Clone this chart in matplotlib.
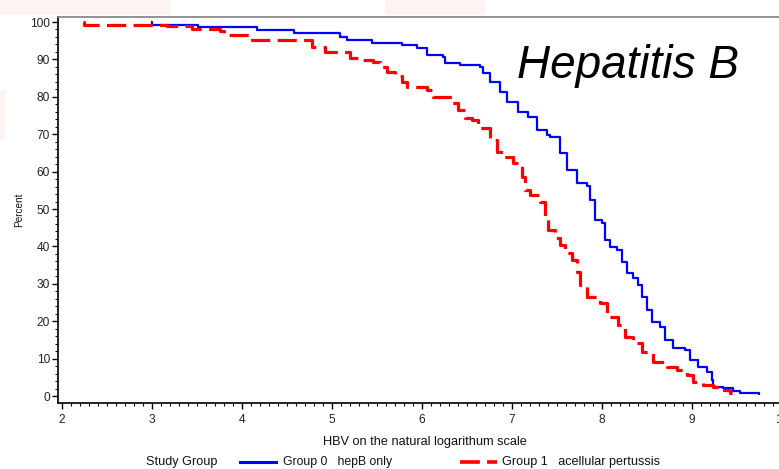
import matplotlib
matplotlib.use("Agg")
import matplotlib.pyplot as plt
from matplotlib.lines import Line2D
from matplotlib.patches import Rectangle
from matplotlib.ticker import MultipleLocator

plt.rcParams['font.family'] = ['Liberation Sans', 'DejaVu Sans']

# Group 0 (hepB only): reverse cumulative percent at ln(HBV) values
g0_x = [2.99, 3.00, 3.51, 4.17, 4.58, 5.09, 5.17, 5.44, 5.78, 5.94, 6.06, 6.23, 6.26,
        6.42, 6.64, 6.68, 6.76, 6.87, 6.94, 7.07, 7.18, 7.28, 7.39, 7.42, 7.53, 7.61,
        7.72, 7.83, 7.87, 7.92, 8.00, 8.03, 8.09, 8.17, 8.22, 8.28, 8.34, 8.40, 8.44,
        8.50, 8.56, 8.64, 8.70, 8.79, 8.92, 8.98, 9.07, 9.17, 9.22, 9.23, 9.34, 9.46,
        9.53, 9.74]
g0_y = [100.0, 99.33, 98.58, 97.86, 97.14, 96.07, 95.19, 94.47, 93.85, 93.05, 91.18,
        90.64, 89.04, 88.50, 87.97, 86.36, 83.96, 81.28, 78.61, 75.94, 74.60, 71.12,
        69.79, 69.25, 64.97, 60.43, 56.95, 56.15, 52.41, 47.06, 46.26, 41.71, 39.84,
        39.04, 35.83, 32.89, 31.55, 29.68, 26.47, 22.99, 19.79, 18.45, 14.97, 12.83,
        12.30, 9.63, 7.75, 6.42, 4.28, 2.41, 2.14, 1.34, 0.80, 0.27]

# Group 1 (acellular pertussis)
g1_x = [2.23, 2.25, 3.17, 3.44, 3.76, 3.80, 3.84, 4.09, 4.78, 4.92, 5.20, 5.34, 5.46,
        5.53, 5.61, 5.70, 5.78, 5.83, 6.06, 6.12, 6.33, 6.40, 6.48, 6.56, 6.62, 6.76,
        6.83, 6.90, 7.01, 7.11, 7.14, 7.20, 7.31, 7.37, 7.40, 7.48, 7.53, 7.59, 7.67,
        7.72, 7.76, 7.83, 7.98, 8.06, 8.18, 8.26, 8.34, 8.44, 8.57, 8.72, 8.83, 8.94,
        9.01, 9.12, 9.23, 9.31, 9.42, 9.44]
g1_y = [100.0, 99.30, 98.80, 98.05, 97.67, 97.06, 96.52, 95.19, 93.32, 91.98, 90.37,
        89.84, 89.30, 87.97, 86.63, 85.56, 83.96, 82.62, 81.82, 79.95, 78.34, 76.47,
        74.33, 73.80, 71.66, 68.45, 65.24, 63.90, 62.30, 58.56, 55.08, 53.74, 51.87,
        47.86, 44.39, 42.25, 40.37, 38.24, 36.36, 33.16, 29.68, 26.47, 24.87, 21.12,
        18.98, 15.78, 14.17, 11.76, 9.09, 7.75, 6.95, 5.61, 3.74, 2.94, 2.41, 1.60,
        0.80, 0.80]

x_ticks = [2, 3, 4, 5, 6, 7, 8, 9, 10]
y_ticks = [0, 10, 20, 30, 40, 50, 60, 70, 80, 90, 100]
legend_title = "Study Group"
labels = ["Group 0   hepB only", "Group 1   acellular pertussis"]

W, H = 779, 469
fig = plt.figure(figsize=(W / 100, H / 100), dpi=100)

# faint slide-background tint
for (x0, y0, w, h) in [(0, 0, 170, 15), (385, 0, 100, 15), (0, 90, 5, 50)]:
    fig.patches.append(Rectangle((x0 / W, 1 - (y0 + h) / H), w / W, h / H,
                                 transform=fig.transFigure, color='#fdf3f3',
                                 zorder=0, lw=0))

ax = fig.add_axes([58 / W, 1 - 403 / H, 733 / W, (403 - 16.7) / H])
ax.set_xlim(1.956, 10.1)
ax.set_ylim(-1.87, 101.42)

ax.plot(g0_x, g0_y, drawstyle='steps-post', color='#0000ff', lw=1.6,
        solid_capstyle='butt')
ln1, = ax.plot(g1_x, g1_y, drawstyle='steps-post', color='#ff0000', lw=2.3,
               dash_capstyle='butt')
ln1.set_dashes((6.0, 2.3))

ax.set_xticks(x_ticks)
ax.set_yticks(y_ticks)
ax.xaxis.set_minor_locator(MultipleLocator(0.1))
ax.yaxis.set_minor_locator(MultipleLocator(2))
ax.tick_params(which='major', direction='out', length=4, width=1, colors='black',
               labelsize=8.6, labelcolor='#222222')
ax.tick_params(which='minor', direction='out', length=2.3, width=0.8, colors='black')
ax.tick_params(axis='x', pad=4)
ax.tick_params(axis='y', pad=1.8)

for s in ['left', 'bottom']:
    ax.spines[s].set_color('black')
    ax.spines[s].set_linewidth(1.2)
ax.spines['top'].set_color('#808080')
ax.spines['top'].set_linewidth(1.2)
ax.spines['right'].set_visible(False)

ax.set_xlabel("HBV on the natural logarithum scale", fontsize=9.2, color='#111111',
              labelpad=7)
ax.set_ylabel("Percent", fontsize=7.2, color='#111111', labelpad=4)

fig.text(517 / W, 1 - 78 / H, "Hepatitis B", fontsize=33, style='italic',
         color='black', ha='left', va='baseline')

# legend row
ly = 1 - 462 / H
fig.text(146 / W, ly, legend_title, fontsize=9.1, color='#111111', va='center')
fig.lines.append(Line2D([240 / W, 276 / W], [ly, ly], transform=fig.transFigure,
                        color='#0000ff', lw=2.2))
fig.text(283 / W, ly, labels[0], fontsize=8.8, color='#111111', va='center')
lr = Line2D([460 / W, 497 / W], [ly, ly], transform=fig.transFigure,
            color='#ff0000', lw=2.6, dash_capstyle='butt')
lr.set_dashes((5.5, 2.0))
fig.lines.append(lr)
fig.text(502 / W, ly, labels[1], fontsize=9.1, color='#111111', va='center')

fig.savefig("out.png", dpi=100)
